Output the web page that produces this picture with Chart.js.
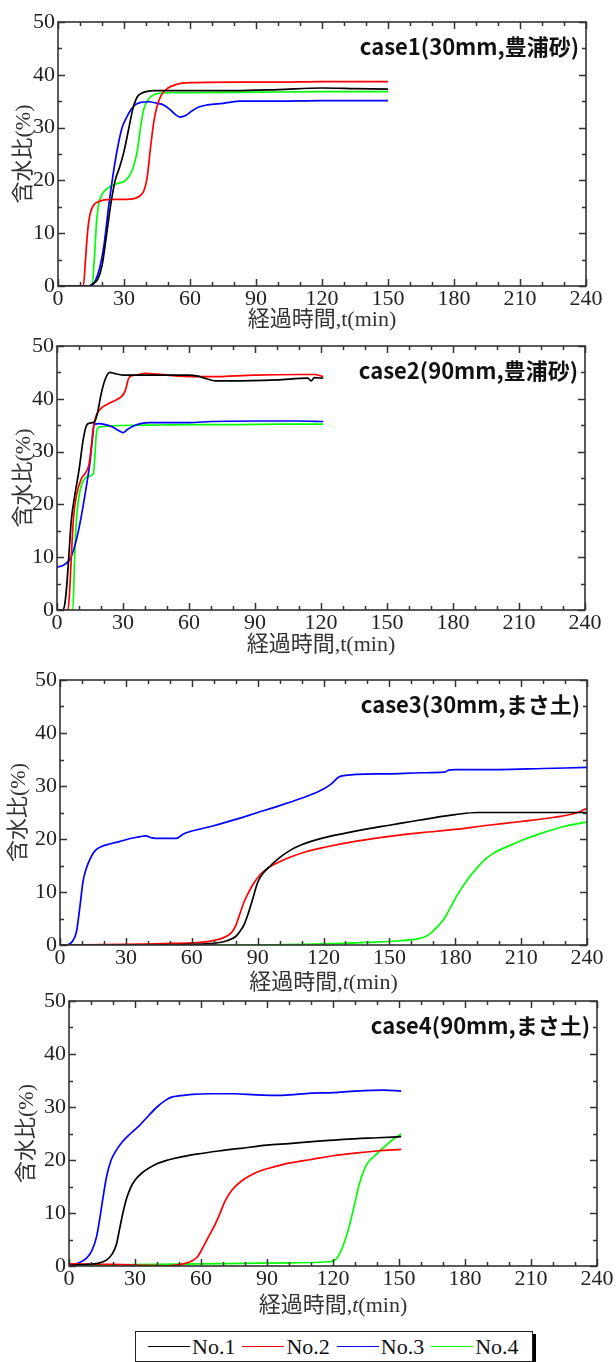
<!DOCTYPE html>
<html lang="ja">
<head>
<meta charset="utf-8">
<title>含水比の経時変化</title>
<script src="https://cdn.jsdelivr.net/npm/chart.js@4.4.1/dist/chart.umd.min.js"></script>
<style>
  html, body { margin: 0; padding: 0; background: #fff; }
  #page { position: relative; width: 616px; height: 1362px; overflow: hidden; background: #fff; }
  #page canvas { position: absolute; left: 0; }
  #legend {
    position: absolute; left: 135px; top: 1331px; width: 398px; height: 31px;
    box-sizing: border-box; border: 1px solid #222; box-shadow: 3px 3px 0 #000;
    background: #fff; display: flex; align-items: center; padding-left: 12px;
    font: 22px 'Liberation Serif', serif; color: #111;
  }
  .item { display: flex; align-items: center; margin-right: 7px; }
  .swatch { width: 42px; height: 0; border-top: 1.5px solid; margin-right: 2px; }
</style>
</head>
<body>
<div id="page">
  <canvas id="case1"></canvas>
  <canvas id="case2"></canvas>
  <canvas id="case3"></canvas>
  <canvas id="case4"></canvas>
  <div id="legend"></div>
</div>
<script>
// series labels / colours
const seriesNames = ['No.1', 'No.2', 'No.3', 'No.4'];
const seriesColors = ['#000000', '#ff0000', '#0000ff', '#00ff00'];
const caseTitles = ['case1(30mm,豊浦砂)', 'case2(90mm,豊浦砂)', 'case3(30mm,まさ土)', 'case4(90mm,まさ土)'];
const timeTicks = [0, 30, 60, 90, 120, 150, 180, 210, 240];
const waterTicks = [0, 10, 20, 30, 40, 50];

// case1 (30mm, 豊浦砂)
const case1No1T = [0, 14, 16, 18, 20, 22, 24, 26, 28, 30, 32, 34, 36, 38, 40, 44, 50, 60, 80, 100, 120, 135, 150];
const case1No1W = [0, 0, 0.5, 1.2, 3.8, 9.5, 15.5, 20, 22.5, 25.5, 29.5, 33.5, 35.8, 36.5, 36.8, 37.0, 37.0, 37.0, 37.0, 37.2, 37.5, 37.4, 37.3];
const case1No2T = [0, 11.5, 12.5, 13.5, 14.5, 16, 18, 21, 25, 30, 35, 37, 39, 40.5, 42, 43.5, 45, 47, 50, 54, 60, 80, 100, 120, 140, 150];
const case1No2W = [0, 0, 5, 10.5, 13.5, 15.2, 15.9, 16.3, 16.4, 16.4, 16.6, 17, 18, 20.5, 26, 31, 34, 36.2, 37.5, 38.2, 38.5, 38.6, 38.6, 38.7, 38.7, 38.7];
const case1No3T = [0, 15, 17, 19, 21, 23, 25, 27, 29, 31, 33, 35, 38, 41, 45, 48, 51, 53, 55.5, 58, 61, 64, 68, 75, 83, 100, 120, 150];
const case1No3W = [0, 0, 1, 3.5, 8, 15, 21, 26, 29.8, 31.8, 33.3, 34.3, 34.8, 34.9, 34.6, 34.3, 33.4, 32.6, 32.0, 32.3, 33.2, 33.9, 34.3, 34.6, 35.0, 35.0, 35.1, 35.1];
const case1No4T = [0, 15.5, 16.5, 17.5, 18.5, 20, 22, 24, 27, 30, 32, 34, 36, 37.5, 39, 41, 43, 46, 50, 60, 90, 120, 150];
const case1No4W = [0, 0, 5, 12, 15.5, 17.3, 18.3, 18.9, 19.4, 19.8, 20.6, 22.2, 25.5, 30, 33.5, 35.3, 36.1, 36.5, 36.6, 36.6, 36.7, 36.8, 36.8];

// case2 (90mm, 豊浦砂)
const case2No1T = [0, 2.5, 3.5, 4.5, 5.5, 6.5, 8, 10, 12, 13.5, 15, 17, 18.5, 20, 22, 24, 26, 30, 40, 50, 60, 64, 68, 72, 80, 100, 114, 115.5, 117, 121];
const case2No1W = [0, 0, 1, 5, 11, 17, 21.5, 26.5, 32.5, 35, 35.4, 35.6, 37.5, 40.8, 43.8, 45, 44.8, 44.5, 44.5, 44.5, 44.5, 44.3, 43.8, 43.4, 43.4, 43.6, 43.9, 43.4, 44, 43.9];
const case2No2T = [0, 5, 5.8, 6.5, 7.5, 9, 11, 13, 14.5, 15.5, 16.5, 18, 20, 23, 26, 29, 31, 32.5, 34, 36, 40, 45, 55, 70, 90, 110, 117, 121];
const case2No2W = [0, 0, 4, 10, 17.5, 22, 24.8, 26, 27.5, 30.5, 34.5, 37, 38.2, 39, 39.6, 40.3, 41.5, 43.8, 44.4, 44.5, 44.8, 44.7, 44.3, 44.2, 44.5, 44.6, 44.6, 44.2];
const case2No3T = [0, 3, 6, 8, 10, 12, 13.5, 15, 16, 17, 19, 22, 25, 28, 30, 32, 35, 38, 42, 50, 60, 70, 90, 110, 121];
const case2No3W = [8.1, 8.5, 9.7, 12, 15.5, 20, 23.8, 28, 32, 35.2, 35.3, 35.1, 34.7, 34.0, 33.6, 34.2, 34.9, 35.3, 35.5, 35.5, 35.5, 35.7, 35.8, 35.8, 35.7];
const case2No4T = [0, 7.2, 8, 8.8, 9.8, 11, 12.5, 14, 16.5, 17.2, 17.8, 18.5, 20, 25, 40, 60, 80, 100, 121];
const case2No4W = [0, 0, 10, 17, 21, 23.5, 24.8, 25.3, 25.8, 29, 33, 34.4, 34.7, 34.9, 35.0, 35.1, 35.1, 35.2, 35.2];

// case3 (30mm, まさ土)
const case3No1T = [0, 40, 60, 70, 76, 80, 82, 84, 86, 88, 90, 93, 96, 100, 105, 110, 120, 130, 140, 150, 160, 170, 180, 190, 200, 220, 240];
const case3No1W = [0, 0, 0.1, 0.3, 0.8, 1.6, 2.6, 4, 6.3, 9, 11.8, 13.8, 15, 16.5, 17.9, 18.9, 20.2, 21.1, 21.9, 22.6, 23.3, 24.0, 24.6, 25.0, 25.0, 25.0, 25.0];
const case3No2T = [0, 30, 50, 60, 68, 74, 78, 80, 82, 84, 86, 88, 91, 95, 100, 105, 112, 120, 135, 150, 165, 180, 195, 210, 225, 235, 240];
const case3No2W = [0, 0.1, 0.3, 0.4, 0.7, 1.3, 2.3, 3.6, 6, 8.3, 10, 11.5, 13.2, 14.6, 15.7, 16.6, 17.6, 18.4, 19.6, 20.5, 21.2, 21.8, 22.6, 23.3, 24.1, 24.9, 25.8];
const case3No3T = [0, 3, 5.5, 7.5, 9, 10.5, 12, 14, 16, 19, 23, 27, 32, 36, 39, 42, 46, 50, 53, 56, 60, 70, 80, 90, 100, 110, 118, 123, 127, 130, 135, 150, 165, 175, 177, 180, 200, 220, 240];
const case3No3W = [0, 0, 0.6, 2.5, 7, 12, 14.5, 16.5, 17.8, 18.6, 19.1, 19.5, 20.1, 20.4, 20.6, 20.2, 20.1, 20.1, 20.1, 20.9, 21.5, 22.5, 23.7, 25.0, 26.3, 27.7, 29.0, 30.2, 31.7, 32.0, 32.2, 32.3, 32.5, 32.6, 33.0, 33.1, 33.1, 33.3, 33.5];
const case3No4T = [0, 90, 120, 140, 155, 162, 166, 169, 172, 175, 178, 181, 185, 190, 194, 197, 200, 205, 212, 220, 230, 240];
const case3No4W = [0, 0, 0.2, 0.5, 0.8, 1.1, 1.5, 2.3, 3.5, 5.0, 7.2, 9.5, 12.0, 14.6, 16.3, 17.2, 17.9, 18.8, 20.0, 21.2, 22.4, 23.2];

// case4 (90mm, まさ土)
const case4No1T = [0, 8, 13, 17, 19.5, 21.5, 23, 24.5, 26, 28, 30, 33, 36, 40, 45, 50, 58, 68, 78, 90, 100, 112, 125, 140, 151];
const case4No1W = [0.1, 0.3, 0.5, 1.1, 2.2, 4, 7, 10, 12.5, 14.8, 16.2, 17.5, 18.4, 19.3, 20.0, 20.5, 21.1, 21.7, 22.2, 22.8, 23.1, 23.5, 23.9, 24.2, 24.4];
const case4No2T = [0, 20, 35, 45, 52, 56, 58.5, 61, 63.5, 66, 68.5, 71, 74, 78, 83, 88, 94, 100, 110, 120, 130, 140, 151];
const case4No2W = [0.4, 0.3, 0.1, 0.05, 0.4, 1.0, 1.8, 3.6, 5.6, 7.5, 9.8, 12.3, 14.3, 15.9, 17.2, 18.1, 18.8, 19.4, 20.1, 20.8, 21.3, 21.7, 22.0];
const case4No3T = [0, 4, 8, 10.5, 12.5, 14, 15.5, 17, 19, 21, 24, 28, 32, 36, 40, 44, 47, 50, 56, 65, 75, 85, 97, 110, 120, 130, 143, 151];
const case4No3W = [0.1, 0.5, 1.5, 3, 5.5, 9, 13, 16.7, 19.8, 21.5, 23.3, 25, 26.5, 28.3, 30.0, 31.3, 31.9, 32.1, 32.4, 32.5, 32.5, 32.3, 32.2, 32.6, 32.7, 33.0, 33.2, 33.0];
const case4No4T = [0, 40, 60, 80, 100, 118, 120.5, 122, 124, 126, 128, 130, 132, 134, 136, 139, 142, 145, 148, 151];
const case4No4W = [0.1, 0.3, 0.4, 0.5, 0.6, 0.8, 1.0, 1.6, 3.2, 5.5, 8.5, 12, 15.5, 18, 19.6, 20.8, 22, 23.1, 24.1, 24.9];

const serif = "'Liberation Serif', 'Noto Sans CJK JP', serif";
const padTop = 26;

// plot-area placement of each panel on the page
const panels = [
  { id: 'case1', left: 58, right: 586, top: 22, bottom: 286, yTitleX: 24, xTitleY: 320, italicT: false,
    series: [[case1No1T, case1No1W], [case1No2T, case1No2W], [case1No3T, case1No3W], [case1No4T, case1No4W]] },
  { id: 'case2', left: 57, right: 585, top: 346, bottom: 610, yTitleX: 24, xTitleY: 645, italicT: false,
    series: [[case2No1T, case2No1W], [case2No2T, case2No2W], [case2No3T, case2No3W], [case2No4T, case2No4W]] },
  { id: 'case3', left: 60, right: 587, top: 680, bottom: 945, yTitleX: 19, xTitleY: 983, italicT: true,
    series: [[case3No1T, case3No1W], [case3No2T, case3No2W], [case3No3T, case3No3W], [case3No4T, case3No4W]] },
  { id: 'case4', left: 69, right: 597, top: 1001, bottom: 1266, yTitleX: 27, xTitleY: 1306, italicT: true,
    series: [[case4No1T, case4No1W], [case4No2T, case4No2W], [case4No3T, case4No3W], [case4No4T, case4No4W]] }
];

// box around the plot area with inward major/minor ticks on all four sides
const frameTicks = {
  id: 'frameTicks',
  afterDatasetsDraw(chart) {
    const { ctx, chartArea: a, scales: { x, y } } = chart;
    ctx.save();
    ctx.strokeStyle = '#333';
    ctx.lineWidth = 1.5;
    ctx.beginPath();
    for (let t = 0; t <= 240; t += 10) {
      const px = Math.round(x.getPixelForValue(t)) + 0.5;
      const len = t % 30 === 0 ? 7 : 4;
      ctx.moveTo(px, a.bottom); ctx.lineTo(px, a.bottom - len);
      ctx.moveTo(px, a.top); ctx.lineTo(px, a.top + len);
    }
    for (let w = 0; w <= 50; w += 5) {
      const py = Math.round(y.getPixelForValue(w)) + 0.5;
      const len = w % 10 === 0 ? 7 : 4;
      ctx.moveTo(a.left, py); ctx.lineTo(a.left + len, py);
      ctx.moveTo(a.right, py); ctx.lineTo(a.right - len, py);
    }
    ctx.stroke();
    ctx.lineWidth = 1.6;
    ctx.strokeRect(a.left, a.top, a.right - a.left, a.bottom - a.top);
    ctx.restore();
  }
};

// case label in the upper right corner
const caseLabel = {
  id: 'caseLabel',
  afterDraw(chart, args, opts) {
    const { ctx, chartArea: a } = chart;
    ctx.save();
    ctx.font = "bold 22px 'Noto Sans CJK JP', sans-serif";
    ctx.fillStyle = '#111';
    ctx.textAlign = 'right';
    ctx.textBaseline = 'middle';
    ctx.fillText(opts.text, a.right - 7, a.top + 25);
    ctx.restore();
  }
};

// x-axis title, with an italic t where needed
const timeTitle = {
  id: 'timeTitle',
  afterDraw(chart, args, opts) {
    const { ctx, chartArea: a } = chart;
    const parts = [
      { text: '経過時間,', font: '22px ' + serif },
      { text: 't', font: (opts.italic ? 'italic ' : '') + '22px ' + serif },
      { text: '(min)', font: '22px ' + serif }
    ];
    ctx.save();
    ctx.fillStyle = '#333';
    ctx.textBaseline = 'middle';
    ctx.textAlign = 'left';
    let total = 0;
    parts.forEach(p => { ctx.font = p.font; p.w = ctx.measureText(p.text).width; total += p.w; });
    let px = (a.left + a.right) / 2 - total / 2;
    parts.forEach(p => { ctx.font = p.font; ctx.fillText(p.text, px, opts.y); px += p.w; });
    ctx.restore();
  }
};

const tickFont = { family: serif, size: 22 };

panels.forEach((p, i) => {
  const xAxisH = p.xTitleY + 14 - p.bottom;
  const canvas = document.getElementById(p.id);
  const canvasTop = p.top - padTop;
  const height = padTop + (p.bottom - p.top) + xAxisH;
  canvas.width = 616;
  canvas.height = height;
  canvas.style.top = canvasTop + 'px';

  new Chart(canvas.getContext('2d'), {
    type: 'line',
    data: {
      datasets: p.series.map(([t, w], k) => ({
        label: seriesNames[k],
        data: t.map((tv, j) => ({ x: tv, y: w[j] })),
        borderColor: seriesColors[k],
        borderWidth: 1.7,
        pointRadius: 0,
        fill: false,
        cubicInterpolationMode: 'monotone'
      }))
    },
    options: {
      responsive: false,
      animation: false,
      events: [],
      layout: { padding: { left: 0, right: 616 - p.right, top: padTop, bottom: 0 } },
      plugins: {
        legend: { display: false },
        tooltip: { enabled: false },
        caseLabel: { text: caseTitles[i] },
        timeTitle: { y: p.xTitleY - canvasTop, italic: p.italicT }
      },
      scales: {
        x: {
          type: 'linear',
          min: timeTicks[0],
          max: timeTicks[timeTicks.length - 1],
          afterFit: s => { s.height = xAxisH; },
          afterBuildTicks: s => { s.ticks = timeTicks.map(v => ({ value: v })); },
          grid: { display: false, drawTicks: false },
          border: { display: false },
          ticks: { autoSkip: false, maxRotation: 0, padding: 0, color: '#222', font: tickFont }
        },
        y: {
          min: waterTicks[0],
          max: waterTicks[waterTicks.length - 1],
          afterFit: s => { s.width = p.left; },
          afterBuildTicks: s => { s.ticks = waterTicks.map(v => ({ value: v })); },
          grid: { display: false, drawTicks: false },
          border: { display: false },
          ticks: { padding: 3, color: '#222', font: tickFont },
          title: {
            display: true,
            text: '含水比(%)',
            color: '#333',
            font: { family: serif, size: 22 },
            padding: { top: p.yTitleX - 13.2, bottom: 0 }
          }
        }
      }
    },
    plugins: [frameTicks, caseLabel, timeTitle]
  });
});

// shared legend under the last panel
const legend = document.getElementById('legend');
seriesNames.forEach((name, k) => {
  const item = document.createElement('span');
  item.className = 'item';
  const sw = document.createElement('span');
  sw.className = 'swatch';
  sw.style.borderColor = seriesColors[k];
  const label = document.createElement('span');
  label.textContent = name;
  item.appendChild(sw);
  item.appendChild(label);
  legend.appendChild(item);
});
</script>
</body>
</html>
